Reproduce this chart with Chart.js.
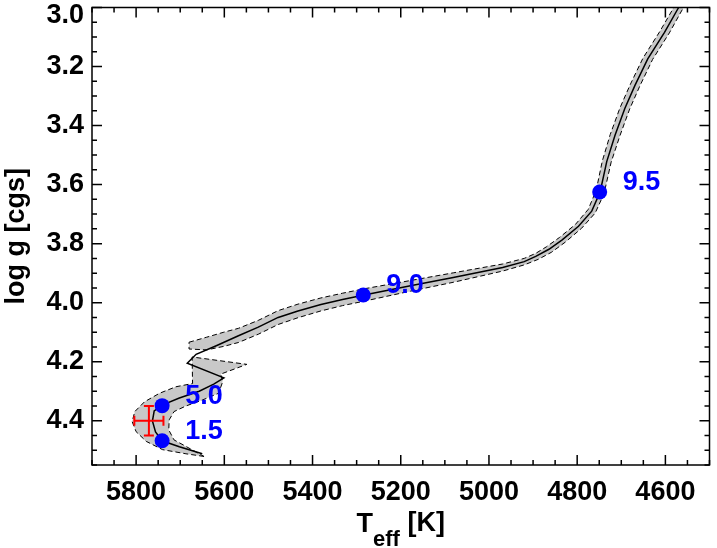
<!DOCTYPE html>
<html>
<head>
<meta charset="utf-8">
<script src="https://cdn.jsdelivr.net/npm/chart.js@4.4.0/dist/chart.umd.min.js"></script>
<style>
  html, body { margin: 0; padding: 0; background: #fff; }
</style>
</head>
<body>
<canvas id="myChart" width="717" height="548"></canvas>
<script>
// ---- model track (solid line), young -> old
var trackTeff = [5650, 5702, 5741, 5756, 5763, 5759, 5741, 5702, 5657, 5624, 5601, 5684, 5664, 5617, 5568, 5523, 5478, 5433, 5381, 5332, 5283, 5178, 5081, 4969, 4920, 4894, 4864, 4834, 4797, 4767, 4748, 4733, 4714, 4692, 4669, 4640, 4602, 4570, 4555];
var trackLogg = [4.512, 4.488, 4.468, 4.438, 4.401, 4.367, 4.347, 4.323, 4.300, 4.276, 4.255, 4.205, 4.175, 4.145, 4.112, 4.083, 4.050, 4.028, 4.006, 3.989, 3.974, 3.943, 3.915, 3.881, 3.861, 3.843, 3.819, 3.787, 3.741, 3.690, 3.625, 3.522, 3.432, 3.342, 3.264, 3.174, 3.084, 3.000, 2.960];

// ---- uncertainty band, main sequence part (closed outline)
var band1Teff = [5646, 5687, 5740, 5777, 5800, 5809, 5803, 5781, 5747, 5710, 5672, 5673, 5549, 5608, 5604, 5613, 5650, 5687, 5714, 5725, 5726, 5714, 5687, 5646];
var band1Logg = [4.521, 4.512, 4.498, 4.470, 4.437, 4.403, 4.369, 4.336, 4.307, 4.285, 4.274, 4.184, 4.209, 4.242, 4.269, 4.307, 4.330, 4.350, 4.369, 4.397, 4.431, 4.465, 4.487, 4.521];

// ---- uncertainty band, subgiant / red giant part (closed outline)
var band2Teff = [5680, 5640, 5601, 5568, 5523, 5478, 5433, 5381, 5332, 5283, 5178, 5081, 4969, 4920, 4894, 4870, 4840, 4804, 4775, 4757, 4743, 4725, 4703, 4680, 4651, 4613, 4581, 4566,
                 4544, 4559, 4591, 4629, 4658, 4681, 4703, 4723, 4739, 4759, 4790, 4827, 4858, 4888, 4920, 4969, 5081, 5178, 5283, 5332, 5381, 5433, 5478, 5523, 5568, 5601, 5640, 5680, 5680];
var band2Logg = [4.134, 4.117, 4.100, 4.087, 4.060, 4.027, 4.005, 3.984, 3.968, 3.953, 3.925, 3.899, 3.869, 3.850, 3.833, 3.811, 3.779, 3.735, 3.684, 3.620, 3.520, 3.430, 3.340, 3.262, 3.172, 3.082, 3.000, 2.960,
                 2.960, 3.000, 3.086, 3.176, 3.266, 3.344, 3.434, 3.524, 3.630, 3.696, 3.748, 3.795, 3.829, 3.853, 3.872, 3.893, 3.931, 3.961, 3.995, 4.010, 4.028, 4.051, 4.074, 4.107, 4.135, 4.148, 4.160, 4.157, 4.134];

// ---- ages marked on the track [Gyr]
var ageValues = [1.5, 5.0, 9.0, 9.5];
var ageTeff = [5741, 5741, 5285, 4749];
var ageLogg = [4.468, 4.349, 3.974, 3.625];

// ---- observed star
var obsTeff = [5771];
var obsTeffErr = [33];
var obsLogg = [4.40];
var obsLoggErr = [0.05];

// ---- axes
var xTickLabels = [5800, 5600, 5400, 5200, 5000, 4800, 4600];
var yTickLabels = [3.0, 3.2, 3.4, 3.6, 3.8, 4.0, 4.2, 4.4];
var xMinor = 50, yMinor = 0.05;

var FONT = 'Liberation Sans';

function pts(xs, ys) {
  return xs.map(function (x, i) { return {x: x, y: ys[i]}; });
}

function noPad(s) {
  s.paddingTop = 0; s.paddingBottom = 0; s.paddingLeft = 0; s.paddingRight = 0;
}

//==========================================================================

const frame = {
  id: 'frame',
  afterDatasetsDraw(chart) {
    const c = chart.ctx, a = chart.chartArea;
    const xs = chart.scales.x, ys = chart.scales.y;
    c.save();

    // error bar of the star
    c.strokeStyle = '#ff0000';
    c.lineWidth = 2;
    for (var i = 0; i < obsTeff.length; i++) {
      var cx = xs.getPixelForValue(obsTeff[i]);
      var cy = ys.getPixelForValue(obsLogg[i]);
      var x1 = xs.getPixelForValue(obsTeff[i] + obsTeffErr[i]);
      var x2 = xs.getPixelForValue(obsTeff[i] - obsTeffErr[i]);
      var y1 = ys.getPixelForValue(obsLogg[i] - obsLoggErr[i]);
      var y2 = ys.getPixelForValue(obsLogg[i] + obsLoggErr[i]);
      c.beginPath();
      c.moveTo(x1, cy); c.lineTo(x2, cy);
      c.moveTo(x1, cy - 5); c.lineTo(x1, cy + 5);
      c.moveTo(x2, cy - 5); c.lineTo(x2, cy + 5);
      c.moveTo(cx, y1); c.lineTo(cx, y2);
      c.moveTo(cx - 5, y1); c.lineTo(cx + 5, y1);
      c.moveTo(cx - 5, y2); c.lineTo(cx + 5, y2);
      c.stroke();
    }

    // age labels
    c.fillStyle = '#0000ff';
    c.font = 'bold 27px "' + FONT + '"';
    c.textAlign = 'left';
    c.textBaseline = 'middle';
    for (var j = 0; j < ageValues.length; j++) {
      var px = xs.getPixelForValue(ageTeff[j]);
      var py = ys.getPixelForValue(ageLogg[j]);
      c.fillText(ageValues[j].toFixed(1), px + 23, py - 9);
    }

    // box
    c.strokeStyle = '#000';
    c.lineWidth = 1.5;
    c.strokeRect(a.left, a.top, a.right - a.left, a.bottom - a.top);

    // inward ticks on all four sides
    c.beginPath();
    for (var t = xs.min; t <= xs.max + 0.001; t += xMinor) {
      var p = xs.getPixelForValue(t);
      var len = (Math.round(t) % 200 === 0) ? 10 : 5;
      c.moveTo(p, a.bottom); c.lineTo(p, a.bottom - len);
      c.moveTo(p, a.top); c.lineTo(p, a.top + len);
    }
    for (var k = 0; k * yMinor <= (ys.max - ys.min) + 1e-6; k++) {
      var v = ys.min + k * yMinor;
      var q = ys.getPixelForValue(v);
      var ln = (k % 4 === 0) ? 10 : 5;
      c.moveTo(a.left, q); c.lineTo(a.left + ln, q);
      c.moveTo(a.right, q); c.lineTo(a.right - ln, q);
    }
    c.stroke();

    // x title with subscript
    c.fillStyle = '#000';
    c.textAlign = 'left';
    c.textBaseline = 'alphabetic';
    var big = 'bold 27px "' + FONT + '"', small = 'bold 22px "' + FONT + '"';
    c.font = big; var wT = c.measureText('T').width, wK = c.measureText(' [K]').width;
    c.font = small; var wE = c.measureText('eff').width;
    var x0 = (a.left + a.right) / 2 - (wT + wE + wK) / 2;
    c.font = big; c.fillText('T', x0, 532);
    c.font = small; c.fillText('eff', x0 + wT, 546);
    c.font = big; c.fillText(' [K]', x0 + wT + wE, 531);

    c.restore();
  }
};

//==========================================================================

var ctx = document.getElementById('myChart').getContext('2d');
var chart = new Chart(ctx, {
  type: 'line',
  data: {
    datasets: [
      {
        label: 'ages',
        data: pts(ageTeff, ageLogg),
        showLine: false,
        pointRadius: 7.5,
        pointBackgroundColor: '#0000ff',
        pointBorderColor: '#0000ff',
        pointBorderWidth: 0,
        order: 0
      },
      {
        label: 'track',
        data: pts(trackTeff, trackLogg),
        borderColor: '#000000',
        borderWidth: 1.5,
        pointRadius: 0,
        tension: 0,
        fill: false,
        order: 1
      },
      {
        label: 'band2',
        data: pts(band2Teff, band2Logg),
        borderColor: '#000000',
        borderWidth: 1,
        borderDash: [5, 3],
        backgroundColor: '#c8c8c8',
        fill: 'shape',
        pointRadius: 0,
        tension: 0,
        order: 2
      },
      {
        label: 'band1',
        data: pts(band1Teff, band1Logg),
        borderColor: '#000000',
        borderWidth: 1,
        borderDash: [5, 3],
        backgroundColor: '#c8c8c8',
        fill: 'shape',
        pointRadius: 0,
        tension: 0,
        order: 3
      }
    ]
  },
  options: {
    responsive: false,
    animation: false,
    layout: { padding: { left: 0, right: 4, top: 5, bottom: 0 } },
    plugins: { legend: { display: false }, tooltip: { enabled: false } },
    scales: {
      x: {
        type: 'linear',
        reverse: true,
        min: 4500,
        max: 5900,
        grid: { display: false, drawTicks: false },
        border: { display: false },
        afterBuildTicks: function (s) { s.ticks = xTickLabels.map(function (v) { return {value: v}; }); },
        afterFit: function (s) { s.height = 83; noPad(s); },
        ticks: {
          color: '#000',
          font: { family: FONT, size: 27, weight: 'bold' },
          padding: 11,
          maxRotation: 0,
          autoSkip: false,
          callback: function (v) { return String(v); }
        }
      },
      y: {
        type: 'linear',
        reverse: true,
        min: 3.0,
        max: 4.55,
        grid: { display: false, drawTicks: false },
        border: { display: false },
        afterBuildTicks: function (s) { s.ticks = yTickLabels.map(function (v) { return {value: v}; }); },
        afterFit: function (s) { s.width = 92; noPad(s); },
        ticks: {
          color: '#000',
          font: function (c) {
            // top label sits a little lower so it is not cut by the page edge
            if (c.tick && Math.abs(c.tick.value - 3.0) < 1e-6) {
              return { family: FONT, size: 27, weight: 'bold', lineHeight: '16px' };
            }
            return { family: FONT, size: 27, weight: 'bold' };
          },
          padding: 8,
          autoSkip: false,
          callback: function (v) {
            if (Math.abs(v - 3.0) < 1e-6) return ['', v.toFixed(1)];
            return v.toFixed(1);
          }
        },
        title: {
          display: true,
          text: 'log g [cgs]',
          color: '#000',
          font: { family: FONT, size: 27, weight: 'bold' },
          padding: { top: 0, bottom: 0 }
        }
      }
    }
  },
  plugins: [frame]
});
</script>
</body>
</html>
